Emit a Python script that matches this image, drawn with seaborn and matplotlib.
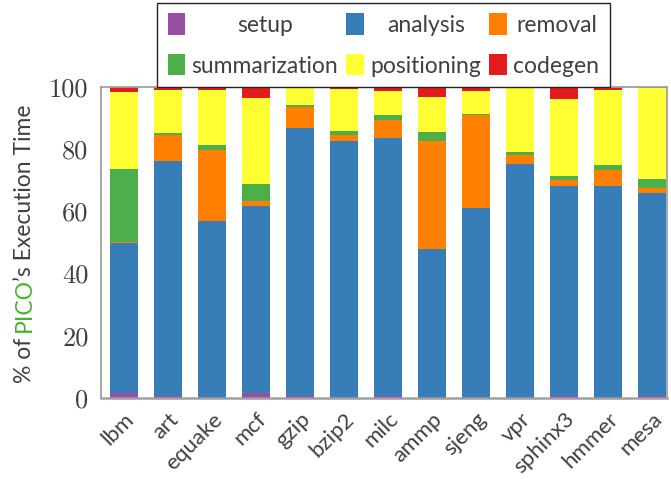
import matplotlib
matplotlib.use("Agg")
import matplotlib.pyplot as plt
from matplotlib.patches import Patch
import numpy as np
import pandas as pd
import seaborn as sns

benchmarks = ["lbm", "art", "equake", "mcf", "gzip", "bzip2", "milc",
              "ammp", "sjeng", "vpr", "sphinx3", "hmmer", "mesa"]
phases = ["setup", "analysis", "removal", "summarization", "positioning", "codegen"]

setup = [1.5, 0.7, 0.3, 1.5, 0.7, 0.3, 0.7, 0.3, 0.3, 0.3, 0.7, 0.3, 0.5]
analysis = [48.4, 75.4, 56.4, 60.2, 86.0, 82.4, 82.8, 47.6, 60.7, 74.9, 67.3, 67.9, 65.5]
removal = [0.15, 8.5, 22.9, 1.7, 6.8, 1.9, 5.7, 34.8, 30.0, 3.0, 1.9, 5.1, 1.5]
summarization = [23.45, 0.4, 1.8, 5.2, 0.6, 1.3, 1.8, 2.9, 0.3, 0.9, 1.5, 1.5, 3.0]
positioning = [24.8, 14.1, 17.7, 27.9, 5.5, 13.5, 7.7, 11.2, 7.3, 20.5, 24.5, 24.2, 29.0]
codegen = [1.7, 0.9, 0.9, 3.5, 0.4, 0.6, 1.3, 3.2, 1.4, 0.4, 4.1, 1.0, 0.5]

colors = {"setup": "#984ea3", "analysis": "#377eb8", "removal": "#ff7f00",
          "summarization": "#4daf4a", "positioning": "#ffff33", "codegen": "#e41a1c"}

yticks = [0, 20, 40, 60, 80, 100]

sns.set_style("white")
plt.rcParams["font.family"] = ["Lato", "DejaVu Sans"]
TEXT = "#404040"
FS = 16.5

df = pd.DataFrame({"setup": setup, "analysis": analysis, "removal": removal,
                   "summarization": summarization, "positioning": positioning,
                   "codegen": codegen}, index=benchmarks)
cum = df[phases].cumsum(axis=1)

W, H = 671, 479
fig = plt.figure(figsize=(W / 100, H / 100), dpi=100)
ax = fig.add_axes([101 / W, 1 - 398 / H, (667 - 101) / W, (398 - 86.7) / H])

# stacked bars: draw cumulative tops from the highest layer down
for ph in reversed(phases):
    sns.barplot(x=benchmarks, y=cum[ph].values, color=colors[ph], saturation=1,
                width=0.64, linewidth=0, ax=ax)

ax.set_xlim(-0.52, 12.34)
ax.set_ylim(0, 100)
ax.set_yticks(yticks)
ax.set_yticklabels([str(v) for v in yticks], fontfamily="cmr10", fontsize=19, color=TEXT)
ax.tick_params(axis="both", length=0)
ax.tick_params(axis="y", pad=9)
ax.tick_params(axis="x", pad=8)
for lab in ax.get_xticklabels():
    lab.set_rotation(45)
    lab.set_ha("right")
    lab.set_va("top")
    lab.set_rotation_mode("anchor")
    lab.set_fontsize(16)
    lab.set_color(TEXT)
ax.set_xlabel("")
ax.set_ylabel("")
for sp in ax.spines.values():
    sp.set_visible(True)
    sp.set_color("#a0a0a0")
    sp.set_linewidth(1.3)
ax.spines["bottom"].set_linewidth(1.8)

# legend: column-major order gives rows setup/analysis/removal and
# summarization/positioning/codegen
order = ["setup", "summarization", "analysis", "positioning", "removal", "codegen"]
handles = [Patch(facecolor=colors[p], edgecolor="none") for p in order]
leg = fig.legend(handles, order, ncol=3, loc="upper center",
                 bbox_to_anchor=(383.5 / W, 1 - 3 / H), frameon=True, fancybox=False,
                 edgecolor="#222222", framealpha=1, fontsize=FS,
                 handlelength=0.75, handleheight=1.05, handletextpad=0.3,
                 columnspacing=0.35, borderpad=0.45, labelspacing=0.8,
                 borderaxespad=0)
leg.get_frame().set_linewidth(1.0)
for t in leg.get_texts():
    t.set_color(TEXT)

fig.canvas.draw()
r = fig.canvas.get_renderer()
dpicor = r.points_to_pixels(1.0)
# centre each label within its legend column
for col in leg._legend_handle_box.get_children():
    items = col.get_children()
    widths = [it.get_children()[1].get_bbox(r).width for it in items]
    wmax = max(widths)
    for it, w in zip(items, widths):
        it.sep += (wmax - w) / 2 / dpicor

# y-axis label with the tool name in green
pieces = [("% of ", TEXT), ("PICO", "#44b52a"), ("\u2019s Execution Time", TEXT)]
full = "".join(p for p, _ in pieces)
yfs = FS


def text_width(s):
    t = fig.text(0, 0, s, fontsize=yfs)
    w = t.get_window_extent(r).width
    t.remove()
    return w


total = text_width(full)
offsets = []
acc = ""
for p, _ in pieces:
    acc = acc + p
    offsets.append(text_width(acc) - text_width(p))
offsets[0] = 0.0
offsets[2] -= 3.0
ycenter = H - 242.5
y0 = ycenter - total / 2
xbase = 31
for (p, c), off in zip(pieces, offsets):
    fig.text(xbase / W, (y0 + off) / H, p, rotation=90, rotation_mode="anchor",
             ha="left", va="baseline", fontsize=yfs, color=c)

fig.savefig("out.png", dpi=100)
